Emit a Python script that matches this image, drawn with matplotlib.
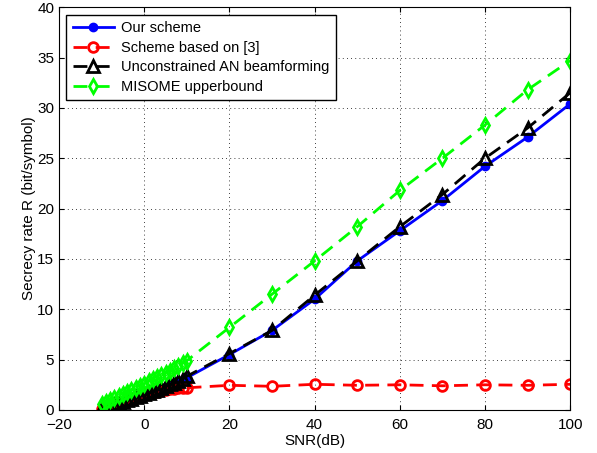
import matplotlib
matplotlib.use('Agg')
import matplotlib.pyplot as plt

plt.rcParams['font.family'] = ['Liberation Sans', 'DejaVu Sans']

# SNR grid: dense from -10 to 10 dB, then every 10 dB
snr = list(range(-10, 11)) + [20, 30, 40, 50, 60, 70, 80, 90, 100]

our_scheme = [0.1, 0.2, 0.3, 0.45, 0.6, 0.75, 0.9, 1.05, 1.2, 1.35, 1.5,
              1.65, 1.8, 1.95, 2.1, 2.3, 2.45, 2.6, 2.8, 3.0, 3.2,
              5.5, 7.9, 11.0, 14.8, 17.8, 20.8, 24.2, 27.1, 30.4]
scheme_3 = [0.1, 0.2, 0.3, 0.45, 0.6, 0.75, 0.9, 1.05, 1.2, 1.35, 1.5,
            1.6, 1.7, 1.8, 1.9, 2.0, 2.05, 2.1, 2.15, 2.2, 2.2,
            2.45, 2.35, 2.55, 2.45, 2.5, 2.4, 2.5, 2.45, 2.55]
unconstrained = [0.15, 0.25, 0.35, 0.5, 0.65, 0.8, 0.95, 1.1, 1.25, 1.4, 1.55,
                 1.7, 1.85, 2.0, 2.2, 2.35, 2.55, 2.7, 2.9, 3.1, 3.35,
                 5.6, 7.9, 11.4, 14.8, 18.2, 21.4, 25.0, 28.0, 31.5]
misome = [0.6, 0.8, 1.0, 1.2, 1.4, 1.6, 1.8, 2.0, 2.2, 2.4, 2.6,
          2.85, 3.05, 3.25, 3.45, 3.7, 3.9, 4.15, 4.4, 4.65, 4.9,
          8.2, 11.5, 14.8, 18.2, 21.8, 25.0, 28.3, 31.8, 34.7]

fig = plt.figure(figsize=(5.97, 4.53), dpi=100)
ax = fig.add_axes([0.099, 0.095, 0.856, 0.889])

dash = (5, 3)
ax.plot(snr, our_scheme, '-', color='#0000ff', lw=2, marker='o', ms=6,
        label='Our scheme')
ax.plot(snr, scheme_3, '--', dashes=dash, color='#ff0000', lw=2, marker='o',
        ms=7, mfc='none', mew=2, label='Scheme based on [3]')
ax.plot(snr, unconstrained, '--', dashes=dash, color='black', lw=2, marker='^',
        ms=8, mfc='none', mew=2, label='Unconstrained AN beamforming')
ax.plot(snr, misome, '--', dashes=dash, color='#00ff00', lw=2, marker='d',
        ms=7, mfc='none', mew=2, label='MISOME upperbound')

ax.set_xlim(-20, 100)
ax.set_ylim(0, 40)
ax.set_xticks(range(-20, 101, 20))
ax.set_yticks(range(0, 41, 5))
ax.set_xticklabels(['\u221220', '0', '20', '40', '60', '80', '100'])
ax.grid(True, linestyle=(0, (1, 4)), color='black', lw=0.6)
ax.tick_params(direction='in', labelsize=11, top=True, right=True)
ax.tick_params(axis='x', pad=6)
ax.set_xlabel('SNR(dB)', fontsize=11, labelpad=1)
ax.set_ylabel('Secrecy rate R (bit/symbol)', fontsize=11, labelpad=1)

leg = ax.legend(loc='upper left', fontsize=10.5, fancybox=False, framealpha=1,
                edgecolor='black', borderaxespad=0.5, handlelength=2.8,
                borderpad=0.45, labelspacing=0.38, handletextpad=0.5)
leg.get_frame().set_linewidth(1)

fig.savefig('out.png', dpi=100)
